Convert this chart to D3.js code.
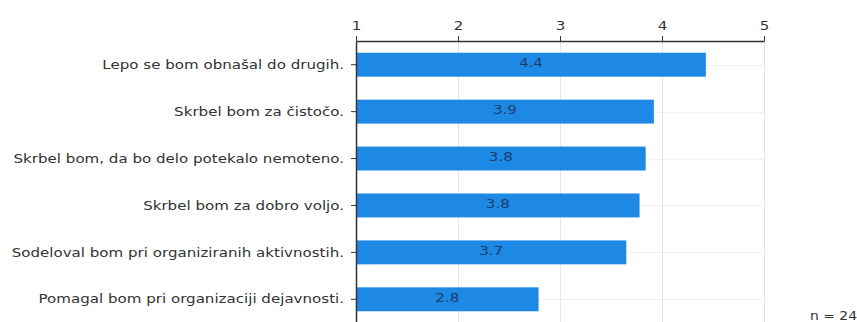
<!DOCTYPE html>
<html><head><meta charset="utf-8">
<script src="https://cdn.jsdelivr.net/npm/d3@7"></script>
<style>
html,body{margin:0;padding:0;background:#fff;}
svg{display:block;font-family:"DejaVu Sans",Verdana,sans-serif;}
</style></head>
<body><svg id="chart" width="857" height="322"></svg>
<script>
const categories = [
  "Lepo se bom obnašal do drugih.",
  "Skrbel bom za čistočo.",
  "Skrbel bom, da bo delo potekalo nemoteno.",
  "Skrbel bom za dobro voljo.",
  "Sodeloval bom pri organiziranih aktivnostih.",
  "Pomagal bom pri organizaciji dejavnosti."
];
const values = [4.43, 3.92, 3.84, 3.78, 3.65, 2.79];
const valueLabels = ["4.4", "3.9", "3.8", "3.8", "3.7", "2.8"];
const xTicks = [1, 2, 3, 4, 5];
const nLabel = "n = 24";

const SX = 1.16; // horizontal stretch of the text
const svg = d3.select("#chart");
const x = d3.scaleLinear().domain([1, 5]).range([356, 764]);
const y = d3.scaleBand().domain(categories).range([41, 323]).paddingInner(0.49).paddingOuter(0.25);

// grid
svg.append("g").selectAll("line").data(xTicks).join("line")
  .attr("x1", d => x(d) + 0.5).attr("x2", d => x(d) + 0.5)
  .attr("y1", 41).attr("y2", 322)
  .attr("stroke", "#e6e6e6").attr("stroke-width", 1);
svg.append("g").selectAll("line").data(categories).join("line")
  .attr("x1", x(1)).attr("x2", x(5))
  .attr("y1", d => Math.round(y(d) + y.bandwidth() / 2) + 0.5)
  .attr("y2", d => Math.round(y(d) + y.bandwidth() / 2) + 0.5)
  .attr("stroke", "#f0f0f0").attr("stroke-width", 1);

// bars
svg.append("g").selectAll("rect").data(categories).join("rect")
  .attr("x", x(1))
  .attr("y", d => y(d))
  .attr("width", (d, i) => x(values[i]) - x(1))
  .attr("height", y.bandwidth())
  .attr("fill", "#1e88e5");

// value labels
svg.append("g").selectAll("text").data(categories).join("text")
  .attr("transform", (d, i) => `translate(${(x(1) + x(values[i])) / 2},${y(d) + y.bandwidth() / 2 + 2.5}) scale(${SX},1)`)
  .attr("text-anchor", "middle")
  .attr("font-size", 13)
  .attr("fill", "#17406e")
  .text((d, i) => valueLabels[i]);

// top axis
const xAxis = svg.append("g").attr("transform", "translate(0,41)")
  .call(d3.axisTop(x).tickValues(xTicks).tickFormat(d3.format("d")).tickSize(5).tickPadding(6).tickSizeOuter(0));
xAxis.select(".domain").attr("stroke", "#333").attr("stroke-width", 1.5);
xAxis.selectAll(".tick line").attr("stroke", "#333");
xAxis.selectAll("text").attr("font-size", 13).attr("fill", "#333")
  .attr("font-family", "DejaVu Sans, sans-serif")
  .attr("transform", `scale(${SX},1)`);

// left axis
const yAxis = svg.append("g").attr("transform", `translate(${x(1)},0)`)
  .call(d3.axisLeft(y).tickSize(5).tickPadding(6).tickSizeOuter(0));
yAxis.select(".domain").attr("stroke", "#333").attr("stroke-width", 1.5);
yAxis.selectAll(".tick line").attr("stroke", "#333");
yAxis.selectAll("text").attr("font-size", 13).attr("fill", "#333")
  .attr("font-family", "DejaVu Sans, sans-serif")
  .attr("x", -12 / SX)
  .attr("transform", `scale(${SX},1)`);

svg.append("text")
  .attr("transform", `translate(857,320) scale(${SX},1)`)
  .attr("text-anchor", "end")
  .attr("font-size", 12).attr("fill", "#333").text(nLabel);
</script></body></html>
